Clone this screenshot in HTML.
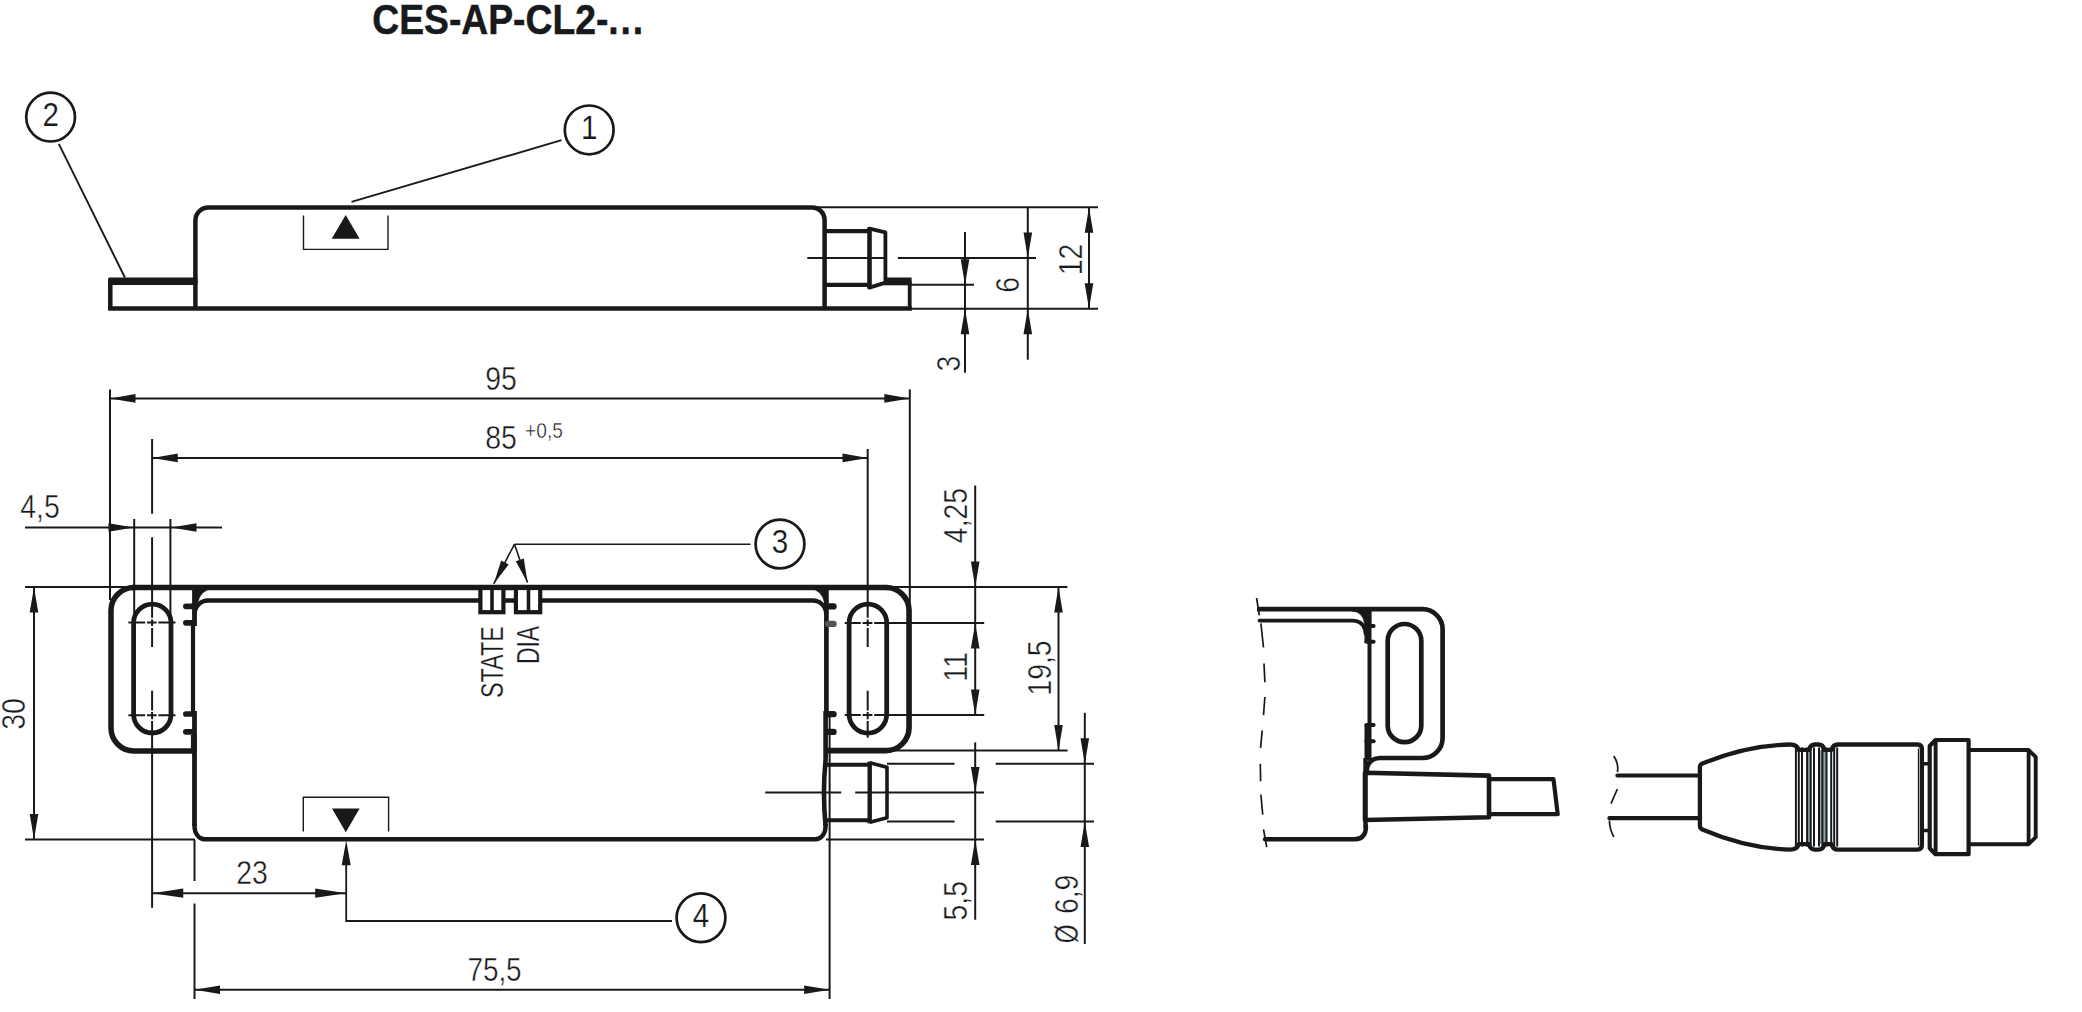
<!DOCTYPE html>
<html lang="en"><head><meta charset="utf-8"><title>CES-AP-CL2-...</title>
<style>
html,body{margin:0;padding:0;background:#fff;}
body{width:2082px;height:1012px;overflow:hidden;}
svg{display:block;font-family:"Liberation Sans",sans-serif;}
</style></head><body>
<svg width="2082" height="1012" viewBox="0 0 2082 1012" fill="none" stroke="#17191b">
<rect x="0" y="0" width="2082" height="1012" fill="#fff" stroke="none"/>
<text transform="translate(372.3,34.3) scale(0.871,1)" font-size="42.8" font-weight="bold" fill="#17191b" stroke="#17191b" stroke-width="0.5">CES-AP-CL2-<tspan letter-spacing="2.1">...</tspan></text>
<path d="M110.3,308.6 V281.3 H195.4 V220.4 A13,13 0 0 1 208.4,207.5 H812.2 A12.4,12.4 0 0 1 824.6,219.9 V308.6" stroke-width="4.5" />
<path d="M108.1,308.6 H911.9" stroke-width="4.5" />
<path d="M108.4,281.3 H197.3" stroke-width="7.6" />
<path d="M195.4,281 V308.6" stroke-width="4.5" />
<path d="M824.6,231.2 H869.5 M824.6,284.8 H869.5" stroke-width="4.2" />
<path d="M869.5,227.5 V288.7" stroke-width="4.6" />
<path d="M869.5,228.6 L885.4,232.4 V281 M869.5,287.6 L885.4,282.6" stroke-width="3.8" stroke-linejoin="round" stroke-linecap="round"/>
<path d="M884,281.4 H911.6" stroke-width="7.8" />
<path d="M909.7,281 V308.6" stroke-width="3.8" />
<path d="M303.5,215.4 V249.4 H388 V215.4" stroke-width="1.4" />
<polygon points="345.7,214.9 331.7,238.8 359.6,238.8" fill="#17191b" stroke="none"/>
<line x1="561.5" y1="140.2" x2="351.5" y2="201.9" stroke-width="1.9" />
<line x1="58.8" y1="143.9" x2="124.9" y2="277.5" stroke-width="1.9" />
<circle cx="589.2" cy="129.9" r="24.4" stroke-width="2.7" fill="none"/>
<text transform="translate(589.2,138.6) scale(0.87,1)" font-size="34" text-anchor="middle" font-weight="normal" fill="#17191b" stroke="#fff" stroke-width="0.2" >1</text>
<circle cx="50.6" cy="117.1" r="24.4" stroke-width="2.7" fill="none"/>
<text transform="translate(50.6,125.8) scale(0.87,1)" font-size="34" text-anchor="middle" font-weight="normal" fill="#17191b" stroke="#fff" stroke-width="0.2" >2</text>
<line x1="812" y1="207.3" x2="1098" y2="207.3" stroke-width="2.0" />
<line x1="910" y1="308.7" x2="1098" y2="308.7" stroke-width="2.0" />
<line x1="910" y1="284.8" x2="974" y2="284.8" stroke-width="2.0" />
<line x1="807.3" y1="258" x2="886.8" y2="258" stroke-width="2.0" />
<line x1="897.9" y1="258" x2="1036" y2="258" stroke-width="2.0" />
<line x1="965" y1="232" x2="965" y2="372.8" stroke-width="2.0" />
<line x1="1027.8" y1="207.3" x2="1027.8" y2="359.7" stroke-width="2.0" />
<line x1="1089" y1="207.3" x2="1089" y2="308.7" stroke-width="2.0" />
<polygon points="965,284.8 960.7,259.3 969.3,259.3" fill="#17191b" stroke="none"/>
<polygon points="965,308.7 960.7,334.2 969.3,334.2" fill="#17191b" stroke="none"/>
<polygon points="1027.8,258 1023.5,232.5 1032.1,232.5" fill="#17191b" stroke="none"/>
<polygon points="1027.8,308.7 1023.5,334.2 1032.1,334.2" fill="#17191b" stroke="none"/>
<polygon points="1089,207.3 1084.7,232.8 1093.3,232.8" fill="#17191b" stroke="none"/>
<polygon points="1089,308.7 1084.7,283.2 1093.3,283.2" fill="#17191b" stroke="none"/>
<text transform="translate(960,363.5) rotate(-90) scale(0.845,1)" font-size="33.6" text-anchor="middle" font-weight="normal" fill="#17191b" stroke="#fff" stroke-width="0.45" >3</text>
<text transform="translate(1019,284.8) rotate(-90) scale(0.845,1)" font-size="33.6" text-anchor="middle" font-weight="normal" fill="#17191b" stroke="#fff" stroke-width="0.45" >6</text>
<text transform="translate(1082,259.5) rotate(-90) scale(0.845,1)" font-size="33.6" text-anchor="middle" font-weight="normal" fill="#17191b" stroke="#fff" stroke-width="0.45" >12</text>
<line x1="25" y1="587" x2="1067.4" y2="587" stroke-width="2.0" />
<line x1="25" y1="839.5" x2="195" y2="839.5" stroke-width="2.0" />
<line x1="826" y1="839.5" x2="984" y2="839.5" stroke-width="2.0" />
<line x1="110" y1="389.4" x2="110" y2="600" stroke-width="2.0" />
<line x1="909.8" y1="389.4" x2="909.8" y2="610" stroke-width="2.0" />
<path d="M152.1,439 V513.8 M152.1,537.3 V617.7 M152.1,619.6 V626 M152.1,628 V647.1 M152.1,690.8 V710.6 M152.1,712 V719.2 M152.1,721 V907.8" stroke-width="2.0" />
<path d="M867.7,449 V617.7 M867.7,619.6 V626 M867.7,628 V647.1 M867.7,690.8 V710.6 M867.7,712 V719.2 M867.7,721 V737.7" stroke-width="2.0" />
<line x1="134.2" y1="519" x2="134.2" y2="620" stroke-width="2.0" />
<line x1="170.4" y1="519" x2="170.4" y2="620" stroke-width="2.0" />
<line x1="25" y1="527.5" x2="222" y2="527.5" stroke-width="2.0" />
<line x1="110" y1="398.4" x2="909.8" y2="398.4" stroke-width="2.0" />
<polygon points="110,398.4 135.5,394.09999999999997 135.5,402.7" fill="#17191b" stroke="none"/>
<polygon points="909.8,398.4 884.3,394.09999999999997 884.3,402.7" fill="#17191b" stroke="none"/>
<text transform="translate(501,390) scale(0.845,1)" font-size="33.6" text-anchor="middle" font-weight="normal" fill="#17191b" stroke="#fff" stroke-width="0.45" >95</text>
<line x1="152.25" y1="457.9" x2="868" y2="457.9" stroke-width="2.0" />
<polygon points="152.25,457.9 177.75,453.59999999999997 177.75,462.2" fill="#17191b" stroke="none"/>
<polygon points="868,457.9 842.5,453.59999999999997 842.5,462.2" fill="#17191b" stroke="none"/>
<text transform="translate(501,449) scale(0.845,1)" font-size="33.6" text-anchor="middle" font-weight="normal" fill="#17191b" stroke="#fff" stroke-width="0.45" >85</text>
<text transform="translate(544,438.3) scale(0.89,1)" font-size="21.5" text-anchor="middle" font-weight="normal" fill="#17191b" stroke="#fff" stroke-width="0.4" >+0,5</text>
<polygon points="134,527.5 108.5,523.2 108.5,531.8" fill="#17191b" stroke="none"/>
<polygon points="171,527.5 196.5,523.2 196.5,531.8" fill="#17191b" stroke="none"/>
<text transform="translate(40,518) scale(0.845,1)" font-size="33.6" text-anchor="middle" font-weight="normal" fill="#17191b" stroke="#fff" stroke-width="0.45" >4,5</text>
<line x1="34" y1="587" x2="34" y2="839.5" stroke-width="2.0" />
<polygon points="34,587 29.7,612.5 38.3,612.5" fill="#17191b" stroke="none"/>
<polygon points="34,839.5 29.7,814.0 38.3,814.0" fill="#17191b" stroke="none"/>
<text transform="translate(25,714) rotate(-90) scale(0.845,1)" font-size="33.6" text-anchor="middle" font-weight="normal" fill="#17191b" stroke="#fff" stroke-width="0.45" >30</text>
<path d="M132,587.5 H887" stroke-width="5.3" />
<path d="M134,587.5 A23,23 0 0 0 111,610.5 V728 A23,23 0 0 0 134,751 H193" stroke-width="5.5" />
<path d="M886,587.5 A23,23 0 0 1 909.05,610.5 V727.6 A23,23 0 0 1 886,750.6 H826" stroke-width="5.6" />
<path d="M194.6,614 A13.5,13.5 0 0 1 208.1,600.5 H812.7 A13.5,13.5 0 0 1 826.2,614" stroke-width="4.4" />
<path d="M196,588 H213 Q200,590.5 197.6,603 H196 Z" stroke-width="0.5" fill="#17191b"/>
<path d="M826,588 H810 Q822.2,590.5 824.6,603 H826 Z" stroke-width="0.5" fill="#17191b"/>
<path d="M194.5,590 V626 M194.5,711 V826" stroke-width="4.8" />
<path d="M193,624 V713" stroke-width="4.2" />
<path d="M193.9,735 V751" stroke-width="6" />
<path d="M826.4,590 V712" stroke-width="4.7" />
<path d="M825.6,711 V760 Q822.3,792.5 825.6,826" stroke-width="4.6" />
<line x1="829.6" y1="711" x2="829.6" y2="999" stroke-width="2.0" />
<path d="M194.5,824 V826.3 A10,13 0 0 0 204.5,839.3 H815.6 A10,13 0 0 0 825.6,826.3 V824" stroke-width="4.4" />
<path d="M192,751 Q194.6,751.5 194.8,758" stroke-width="3.0" />
<path d="M133.6,622.9 A18.7,18.7 0 0 1 171,622.9 V714.3 A18.7,18.7 0 0 1 133.6,714.3 Z" stroke-width="4.8" />
<path d="M849.1,622.9 A18.8,18.8 0 0 1 886.7,622.9 V714.3 A18.8,18.8 0 0 1 849.1,714.3 Z" stroke-width="4.8" />
<path d="M128.4,622.5 H145.2 M147,622.5 H156.6 M158.4,622.5 H175.5" stroke-width="2.0" />
<path d="M128.4,715.2 H145.2 M147,715.2 H156.6 M158.4,715.2 H175.5" stroke-width="2.0" />
<path d="M844.7,622.9 H860.8 M862.6,622.9 H872.4 M874.2,622.9 H984.2" stroke-width="2.0" />
<path d="M844.7,714.9 H860.8 M862.6,714.9 H872.4 M874.2,714.9 H984.2" stroke-width="2.0" />
<path d="M185.9,606.3 H193" stroke-width="5.7" stroke-linecap="round"/>
<path d="M185.9,622.8 H193" stroke-width="5.7" stroke-linecap="round"/>
<path d="M185.9,714 H193" stroke-width="5.7" stroke-linecap="round"/>
<path d="M185.9,731.8 H193" stroke-width="5.7" stroke-linecap="round"/>
<path d="M828,606.4 H833.6" stroke-width="6.2" stroke-linecap="round" stroke="#17191b"/>
<path d="M828,623.9 H833.6" stroke-width="6.2" stroke-linecap="round" stroke="#4d565b"/>
<path d="M828,714.2 H833.6" stroke-width="6.2" stroke-linecap="round" stroke="#17191b"/>
<path d="M828,731.9 H833.6" stroke-width="6.2" stroke-linecap="round" stroke="#17191b"/>
<rect x="480.4" y="588" width="23" height="24.2" fill="#fff" stroke-width="4.2"/>
<rect x="515.9" y="588" width="24.3" height="24.2" fill="#fff" stroke-width="4.2"/>
<path d="M492,588 V612.2 M528.5,588 V612.2" stroke-width="3.6" />
<text transform="translate(503.4,626.3) rotate(-90) scale(0.765,1)" font-size="30.5" text-anchor="end" font-weight="normal" fill="#17191b" stroke="#fff" stroke-width="0.3" >STATE</text>
<text transform="translate(539,626) rotate(-90) scale(0.75,1)" font-size="30.5" text-anchor="end" font-weight="normal" fill="#17191b" stroke="#fff" stroke-width="0.3" >DIA</text>
<line x1="514.5" y1="544.2" x2="750.5" y2="544.2" stroke-width="1.6" />
<line x1="514.5" y1="544.2" x2="493.8" y2="583.8" stroke-width="1.6" />
<line x1="514.5" y1="544.2" x2="527.5" y2="582.5" stroke-width="1.6" />
<polygon points="493.80,583.80 501.15,560.56 508.68,564.50" fill="#17191b" stroke="none"/>
<polygon points="527.50,582.50 515.76,561.14 523.81,558.41" fill="#17191b" stroke="none"/>
<circle cx="780" cy="544" r="24.4" stroke-width="2.7" fill="none"/>
<text transform="translate(780,552.7) scale(0.87,1)" font-size="34" text-anchor="middle" font-weight="normal" fill="#17191b" stroke="#fff" stroke-width="0.2" >3</text>
<path d="M826.4,764.7 H869.8 M826.4,820.3 H869.8" stroke-width="3.9" />
<path d="M869.7,761.6 V823.4" stroke-width="4.4" />
<path d="M869.8,762.8 L887,767.3 V817.7 L869.8,822.2" stroke-width="3.6" stroke-linejoin="round"/>
<line x1="765.2" y1="792.5" x2="984" y2="792.5" stroke-width="2.0" stroke-dasharray="76 14 200"/>
<line x1="887" y1="763.8" x2="954.5" y2="763.8" stroke-width="2.0" />
<line x1="995.7" y1="763.8" x2="1094" y2="763.8" stroke-width="2.0" />
<line x1="887" y1="821.5" x2="954.5" y2="821.5" stroke-width="2.0" />
<line x1="995.7" y1="821.5" x2="1094" y2="821.5" stroke-width="2.0" />
<path d="M303.3,831.5 V797.3 H388.6 V831.5" stroke-width="1.4" />
<polygon points="332,808.5 359.6,808.5 345.8,832.3" fill="#17191b" stroke="none"/>
<path d="M346.2,850 V921 H672" stroke-width="1.8" />
<polygon points="346.2,840.3 341.7,865.3 350.7,865.3" fill="#17191b" stroke="none"/>
<circle cx="701" cy="917.8" r="24.4" stroke-width="2.7" fill="none"/>
<text transform="translate(701,926.5) scale(0.87,1)" font-size="34" text-anchor="middle" font-weight="normal" fill="#17191b" stroke="#fff" stroke-width="0.2" >4</text>
<line x1="152.25" y1="893.2" x2="346.2" y2="893.2" stroke-width="2.0" />
<polygon points="152.25,893.2 183.25,888.6 183.25,897.8000000000001" fill="#17191b" stroke="none"/>
<polygon points="346.2,893.2 315.2,888.6 315.2,897.8000000000001" fill="#17191b" stroke="none"/>
<text transform="translate(252,884) scale(0.845,1)" font-size="33.6" text-anchor="middle" font-weight="normal" fill="#17191b" stroke="#fff" stroke-width="0.45" >23</text>
<line x1="194.5" y1="840" x2="194.5" y2="881" stroke-width="2.0" />
<line x1="194.5" y1="903.5" x2="194.5" y2="999" stroke-width="2.0" />
<line x1="194.5" y1="989.8" x2="829.6" y2="989.8" stroke-width="2.0" />
<polygon points="194.5,989.8 220.0,985.5 220.0,994.0999999999999" fill="#17191b" stroke="none"/>
<polygon points="829.6,989.8 804.1,985.5 804.1,994.0999999999999" fill="#17191b" stroke="none"/>
<text transform="translate(494.5,980.5) scale(0.83,1)" font-size="33.6" text-anchor="middle" font-weight="normal" fill="#17191b" stroke="#fff" stroke-width="0.45" >75,5</text>
<line x1="975.2" y1="485.5" x2="975.2" y2="714.9" stroke-width="2.0" />
<polygon points="975.2,587 970.9000000000001,561.5 979.5,561.5" fill="#17191b" stroke="none"/>
<polygon points="975.2,622.9 970.9000000000001,648.4 979.5,648.4" fill="#17191b" stroke="none"/>
<polygon points="975.2,714.9 970.9000000000001,689.4 979.5,689.4" fill="#17191b" stroke="none"/>
<text transform="translate(967,515.5) rotate(-90) scale(0.845,1)" font-size="33.6" text-anchor="middle" font-weight="normal" fill="#17191b" stroke="#fff" stroke-width="0.45" >4,25</text>
<text transform="translate(967,667) rotate(-90) scale(0.845,1)" font-size="33.6" text-anchor="middle" font-weight="normal" fill="#17191b" stroke="#fff" stroke-width="0.45" >11</text>
<line x1="1058.5" y1="587" x2="1058.5" y2="750.6" stroke-width="2.0" />
<polygon points="1058.5,587 1054.2,612.5 1062.8,612.5" fill="#17191b" stroke="none"/>
<polygon points="1058.5,750.6 1054.2,725.1 1062.8,725.1" fill="#17191b" stroke="none"/>
<line x1="894" y1="750.6" x2="1067.6" y2="750.6" stroke-width="2.0" />
<text transform="translate(1051,668) rotate(-90) scale(0.845,1)" font-size="33.6" text-anchor="middle" font-weight="normal" fill="#17191b" stroke="#fff" stroke-width="0.45" >19,5</text>
<line x1="975.2" y1="742.4" x2="975.2" y2="919.7" stroke-width="2.0" />
<polygon points="975.2,792.5 970.9000000000001,767.0 979.5,767.0" fill="#17191b" stroke="none"/>
<polygon points="975.2,839.5 970.9000000000001,865.0 979.5,865.0" fill="#17191b" stroke="none"/>
<text transform="translate(967,900.7) rotate(-90) scale(0.845,1)" font-size="33.6" text-anchor="middle" font-weight="normal" fill="#17191b" stroke="#fff" stroke-width="0.45" >5,5</text>
<line x1="1084.8" y1="712.8" x2="1084.8" y2="944" stroke-width="2.0" />
<polygon points="1084.8,763.8 1080.5,738.3 1089.1,738.3" fill="#17191b" stroke="none"/>
<polygon points="1084.8,821.5 1080.5,847.0 1089.1,847.0" fill="#17191b" stroke="none"/>
<text transform="translate(1077.7,943.2) rotate(-90) scale(0.72,1)" font-size="33.6" text-anchor="start" font-weight="normal" fill="#17191b" stroke="#fff" stroke-width="0.45" >Ø</text>
<text transform="translate(1077.7,874.6) rotate(-90) scale(0.845,1)" font-size="33.6" text-anchor="end" font-weight="normal" fill="#17191b" stroke="#fff" stroke-width="0.45" >6,9</text>
<path d="M1256.6,598 L1259.3,615.4 M1260.9,623.4 L1263.5,647.5 M1264,663.5 L1264.9,682.2 M1264.9,697 L1263.5,715.1 M1262.2,730.4 L1260.6,747.8 M1260.3,763.8 L1260.6,781.2 M1260.9,794.5 L1262.7,814.6 M1263.5,829.3 L1266.7,847.2" stroke-width="1.7" />
<path d="M1257,609.2 H1422.6 A20,20 0 0 1 1442.6,629.2 V738 A20,20 0 0 1 1422.6,758 H1380 Q1367.5,758.5 1366.6,771" stroke-width="4.7" />
<path d="M1259.5,620.6 H1352 Q1365,621 1365.6,634" stroke-width="3.8" stroke-linecap="round"/>
<path d="M1352,611 Q1363,612 1364.5,624 L1371,624 V611 Z" stroke-width="0.5" fill="#17191b"/>
<path d="M1368,609.2 V643 M1368,724 V760" stroke-width="7" />
<path d="M1369.5,640 V727" stroke-width="4" />
<path d="M1387.7,640.8 A16.8,16.8 0 0 1 1421.3,640.8 V725.4 A16.8,16.8 0 0 1 1387.7,725.4 Z" stroke-width="4.7" />
<path d="M1366.5,626 H1373.6" stroke-width="4" stroke-linecap="round"/>
<path d="M1366.5,641.8 H1373.6" stroke-width="4" stroke-linecap="round"/>
<path d="M1366.5,725 H1373.6" stroke-width="4" stroke-linecap="round"/>
<path d="M1366.5,741.2 H1373.6" stroke-width="4" stroke-linecap="round"/>
<path d="M1265,839.3 H1355 Q1366,839 1366,826" stroke-width="4.4" stroke-linecap="round"/>
<path d="M1365,772.8 L1489,775.6 V817.3 L1365,820 Z" stroke-width="4.6" stroke-linejoin="round"/>
<path d="M1365.5,758 V828" stroke-width="4.4" />
<path d="M1489.3,779.2 H1553.5 L1557.7,814.2 H1489.3" stroke-width="4.2" stroke-linejoin="round"/>
<path d="M1613.8,756 Q1619,764 1617.4,772 M1617.4,789 L1611,803.7 M1609.4,820.6 Q1609.5,829 1613.8,837" stroke-width="1.7" />
<path d="M1617.4,775.5 H1699.4 M1609.4,818.2 H1699.4" stroke-width="4.2" stroke-linecap="round"/>
<rect x="1807.8" y="749.9" width="2.8" height="94.3" fill="#93a5ab" stroke="none"/>
<rect x="1819.6" y="749.9" width="2.6" height="94.3" fill="#93a5ab" stroke="none"/>
<rect x="1823" y="749.9" width="3.3" height="94.3" fill="#93a5ab" stroke="none"/>
<path d="M1795.9,747.5 V846.6" stroke-width="2.0" />
<path d="M1798.8,747.5 V846.6" stroke-width="2.0" />
<path d="M1802,747.5 V846.6" stroke-width="2.0" />
<path d="M1807.1,747.5 V846.6" stroke-width="2.0" />
<path d="M1810.7,747.5 V846.6" stroke-width="2.0" />
<path d="M1814,747.5 V846.6" stroke-width="2.0" />
<path d="M1819,747.5 V846.6" stroke-width="2.0" />
<path d="M1822.4,747.5 V846.6" stroke-width="2.0" />
<path d="M1826.5,747.5 V846.6" stroke-width="2.0" />
<path d="M1831.2,747.5 V846.6" stroke-width="2.0" />
<path d="M1834.2,747.5 V846.6" stroke-width="2.0" />
<path d="M1837.2,747.5 V846.6" stroke-width="2.0" />
<path d="M1699.9,825.5 V767 Q1699.9,764.6 1702.4,763.6 C1735,750 1765,745 1790,744.5 Q1797.3,744.5 1798.6,749.9 H1809 Q1810.3,744.5 1815,744.5 H1818.5 Q1823.2,744.5 1824.5,749.9 H1831.6 Q1832.8,744.5 1838,744.5 H1917.4 Q1921.9,744.5 1921.9,749.0 V845.1 Q1921.9,849.6 1917.4,849.6 H1838 Q1832.8,849.6 1831.6,844.2 H1824.5 Q1823.2,849.6 1818.5,849.6 H1815 Q1810.3,849.6 1809,844.2 H1798.6 Q1797.3,849.6 1790,849.6 C1765,849 1735,843.5 1702.4,829.5 Q1699.9,828.5 1699.9,825.5 Z" stroke-width="4.3" stroke-linejoin="round"/>
<path d="M1918.5,748.5 V845.6" stroke-width="1.3" />
<path d="M1923,763.8 H1928 M1923,830.4 H1928" stroke-width="3.5" />
<path d="M1929.7,746 L1935.5,740 H1968.6 V854.2 H1935.5 L1929.7,848.2 Z" stroke-width="4.2" stroke-linejoin="round"/>
<path d="M1935.6,740 V854.2" stroke-width="3.9" />
<path d="M1968.6,750 H2028.5 L2035.7,757 V837.2 L2028.5,844.2 H1968.6" stroke-width="3.9" stroke-linejoin="round"/>
<path d="M2028.6,750 V844.2" stroke-width="3.8" />
</svg>
</body></html>
